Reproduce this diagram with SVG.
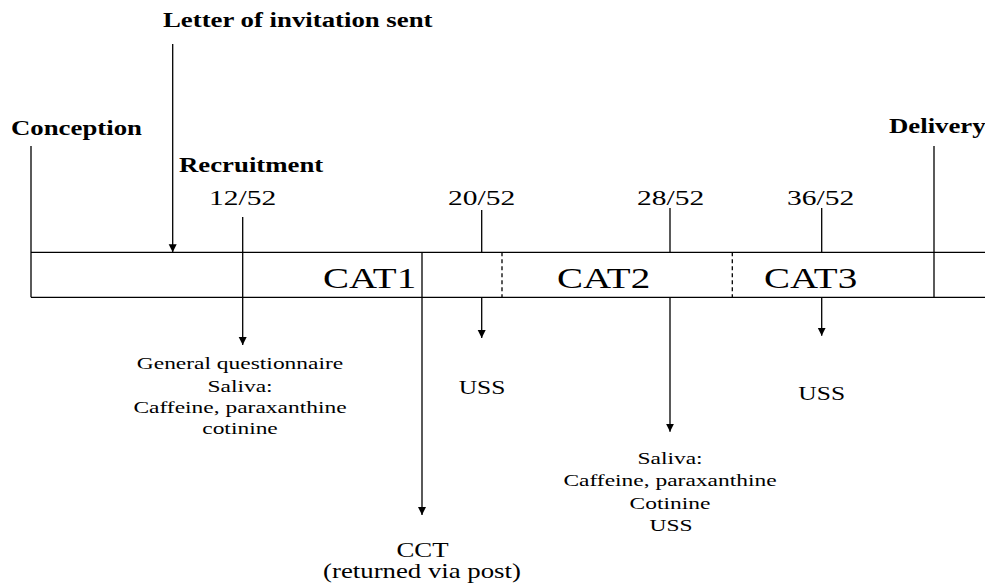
<svg xmlns="http://www.w3.org/2000/svg" width="985" height="583" viewBox="0 0 985 583">
<style>
text{fill:#000}
.b{font-weight:bold;font-size:20px}
.n{font-size:22px}
.cat{font-size:30px}
.s{font-size:17.5px;text-anchor:middle}
.m{font-size:19px;text-anchor:middle}
.l{font-size:20px;text-anchor:middle}
.ln{stroke:#000;stroke-width:1.3;fill:none}
.ar{stroke:#000;stroke-width:1.3;fill:none;marker-end:url(#ah)}
.dash{stroke:#000;stroke-width:1.3;stroke-dasharray:4,3;fill:none}
</style>
<defs>
<marker id="ah" markerUnits="userSpaceOnUse" markerWidth="9" markerHeight="9" refX="8" refY="4" orient="auto">
<path d="M0,0 L8,4 L0,8 z" fill="#000"/>
</marker>
</defs>
<rect width="985" height="583" fill="#fff"/>

<g id="timeline">
<line class="ln" x1="31" y1="252.3" x2="985" y2="252.3"/>
<line class="ln" x1="31" y1="297.3" x2="985" y2="297.3"/>
<line class="dash" x1="502" y1="252.3" x2="502" y2="297.3"/>
<line class="dash" x1="732.3" y1="252.3" x2="732.3" y2="297.3"/>
</g>

<g id="connectors">
<line class="ln" x1="31" y1="146" x2="31" y2="297.3"/>
<line class="ln" x1="934" y1="146" x2="934" y2="297.3"/>
<line class="ar" x1="172.7" y1="44" x2="172.7" y2="252.3"/>
<line class="ar" x1="242.7" y1="217" x2="242.7" y2="345"/>
<line class="ar" x1="422" y1="252.3" x2="422" y2="515"/>
<line class="ln" x1="481.7" y1="210" x2="481.7" y2="252.3"/>
<line class="ar" x1="481.7" y1="297.3" x2="481.7" y2="338"/>
<line class="ln" x1="670" y1="208" x2="670" y2="252.3"/>
<line class="ar" x1="670" y1="297.3" x2="670" y2="431.7"/>
<line class="ln" x1="821.7" y1="208" x2="821.7" y2="252.3"/>
<line class="ar" x1="821.7" y1="297.3" x2="821.7" y2="335.7"/>
</g>

<g font-family="Liberation Serif, Times New Roman, DejaVu Serif, serif">
<g id="letter"><text class="b" transform="translate(163,27) scale(1.34,1)">Letter of invitation sent</text></g>
<g id="conception"><text class="b" transform="translate(11,135) scale(1.34,1)">Conception</text></g>
<g id="recruitment"><text class="b" transform="translate(179,172) scale(1.34,1)">Recruitment</text></g>
<g id="delivery"><text class="b" transform="translate(889,133) scale(1.34,1)">Delivery</text></g>

<g id="w12"><text class="n" transform="translate(209,204.5) scale(1.34,1)">12/52</text></g>
<g id="w20"><text class="n" transform="translate(448,204.5) scale(1.34,1)">20/52</text></g>
<g id="w28"><text class="n" transform="translate(637,204.5) scale(1.34,1)">28/52</text></g>
<g id="w36"><text class="n" transform="translate(787,204.5) scale(1.34,1)">36/52</text></g>

<g id="cat1"><text class="cat" transform="translate(323,288) scale(1.3,1)">CAT1</text></g>
<g id="cat2"><text class="cat" transform="translate(557,287.5) scale(1.3,1)">CAT2</text></g>
<g id="cat3"><text class="cat" transform="translate(764,287.5) scale(1.3,1)">CAT3</text></g>

<g id="recruit-tests">
<text class="s" transform="translate(240,369) scale(1.34,1)">General questionnaire</text>
<text class="s" transform="translate(240,391.5) scale(1.34,1)">Saliva:</text>
<text class="s" transform="translate(240,413) scale(1.34,1)">Caffeine, paraxanthine</text>
<text class="s" transform="translate(240,433.5) scale(1.34,1)">cotinine</text>
</g>
<g id="uss20"><text class="m" transform="translate(482,394) scale(1.34,1)">USS</text></g>
<g id="cct">
<text class="l" transform="translate(422.5,557) scale(1.34,1)">CCT</text>
<text class="l" transform="translate(422,578) scale(1.34,1)">(returned via post)</text>
</g>
<g id="tests28">
<text class="s" transform="translate(670,463.5) scale(1.34,1)">Saliva:</text>
<text class="s" transform="translate(670,486) scale(1.34,1)">Caffeine, paraxanthine</text>
<text class="s" transform="translate(670,508.5) scale(1.34,1)">Cotinine</text>
<text class="s" transform="translate(671,531) scale(1.34,1)">USS</text>
</g>
<g id="uss36"><text class="m" transform="translate(821.7,400) scale(1.34,1)">USS</text></g>
</g>
</svg>
